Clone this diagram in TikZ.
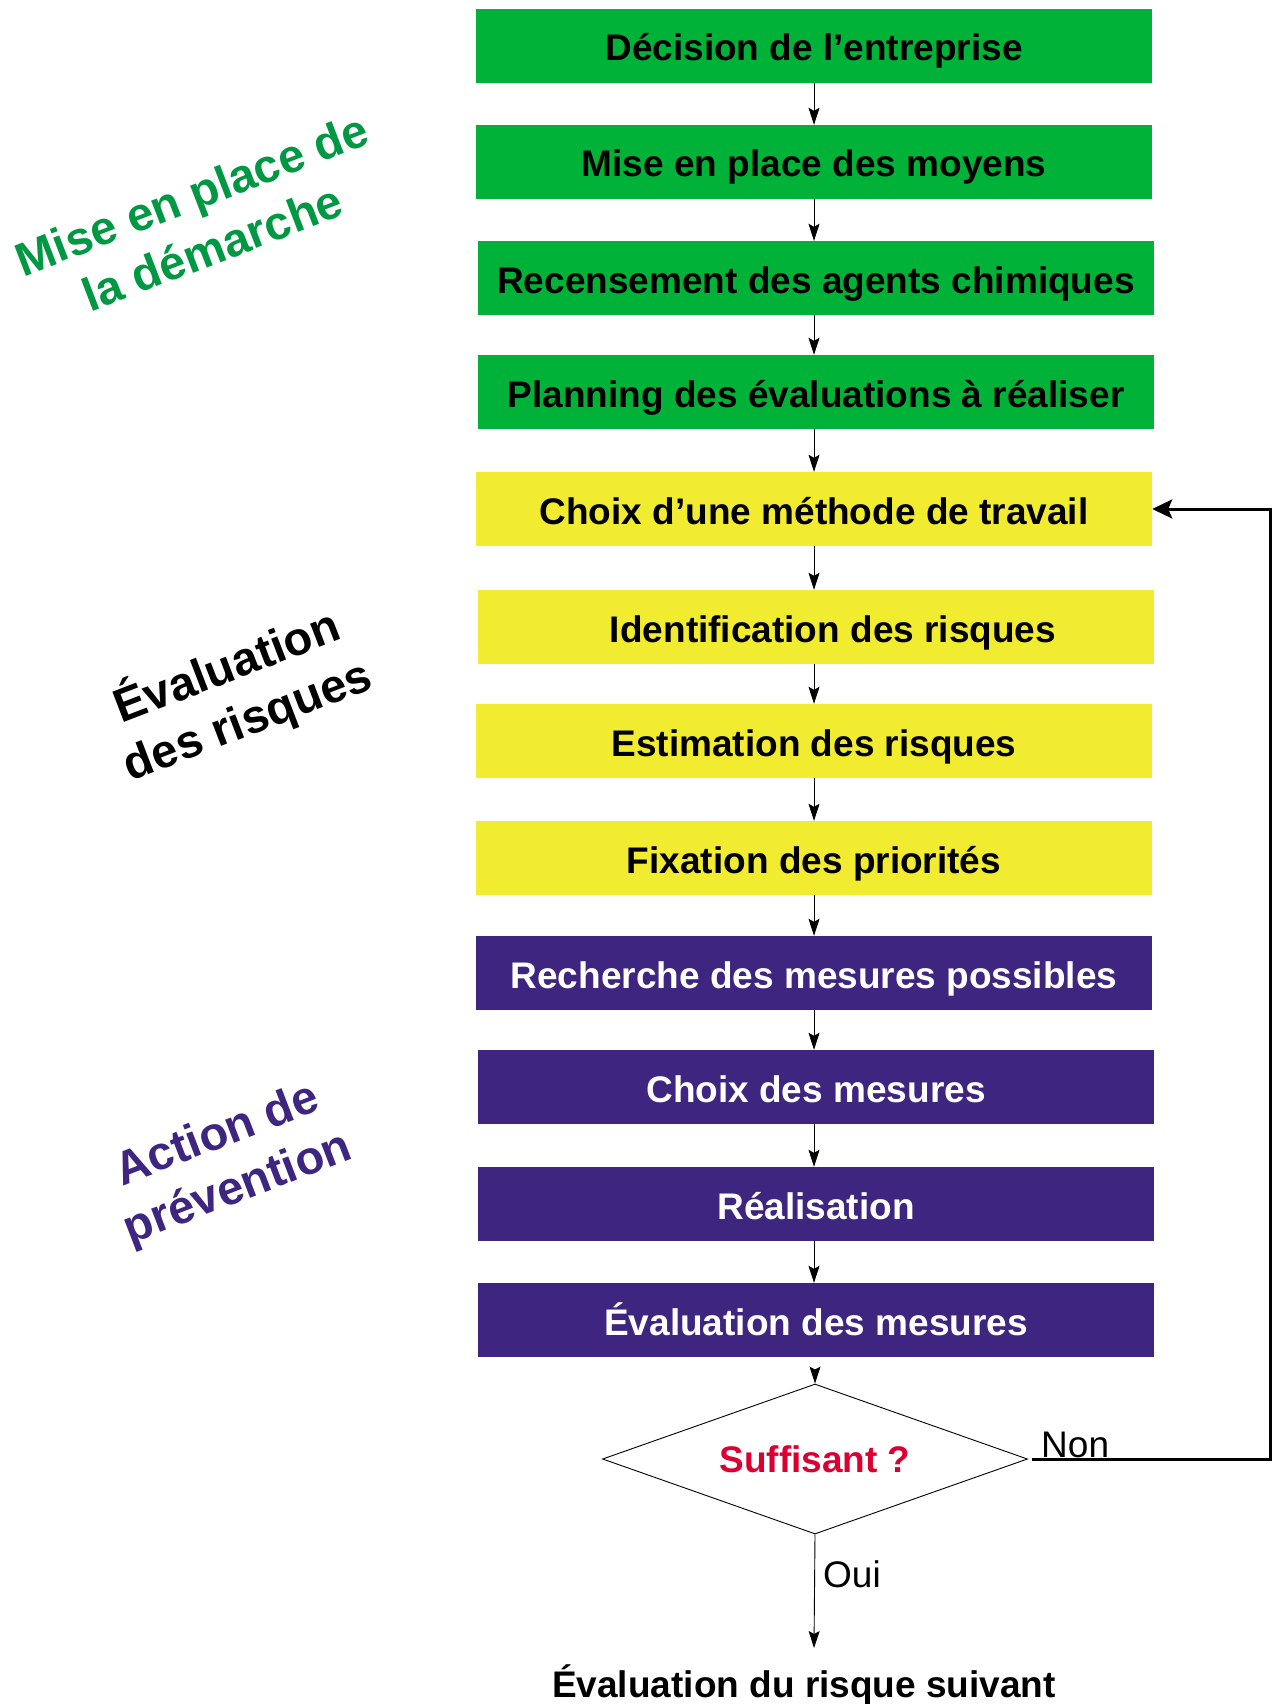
\documentclass[tikz,border=0pt]{standalone}
\usepackage{fontspec}
\setmainfont{Liberation Sans}
\usetikzlibrary{arrows.meta,shapes.geometric,calc}
\definecolor{boxgreen}{RGB}{0,178,56}
\definecolor{labgreen}{RGB}{0,152,66}
\definecolor{boxyellow}{RGB}{242,236,48}
\definecolor{boxpurple}{RGB}{62,37,128}
\definecolor{qred}{RGB}{220,0,50}
\tikzset{
  stepbox/.style={rectangle, minimum width=676pt, minimum height=74pt, inner sep=0pt,
    text height=34pt, text depth=4pt,
    font=\fontsize{37}{40}\selectfont\bfseries},
  gbox/.style={stepbox, fill=boxgreen, text=black},
  ybox/.style={stepbox, fill=boxyellow, text=black},
  pbox/.style={stepbox, fill=boxpurple, text=white},
  arr/.style={draw=black, line width=0.9pt, -{Stealth[length=17pt,width=11pt,inset=3pt]}},
  fb/.style={draw=black, line width=3pt, -{Stealth[length=20pt,width=19pt,inset=4pt]}},
  phase/.style={rotate=21, align=center, font=\fontsize{47}{57}\selectfont\bfseries},
  plain/.style={font=\fontsize{37}{40}\selectfont, inner sep=0pt}
}
\begin{document}
\begin{tikzpicture}[x=1pt,y=-1pt]
\useasboundingbox (0,0) rectangle (1273,1704);
\coordinate (axis) at (814,0);
\node[gbox] (b1) at (814,46) {Décision de l’entreprise};
\node[gbox] (b2) at (814,162) {Mise en place des moyens};
\node[gbox] (b3) at (816,278) {Recensement des agents chimiques};
\node[gbox] (b4) at (816,392) {Planning des évaluations à réaliser};
\node[ybox] (b5) at (814,509) {Choix d’une méthode de travail};
\node[ybox] (b6) at (816,627) {\hspace*{34pt}Identification des risques};
\node[ybox] (b7) at (814,741) {Estimation des risques};
\node[ybox] (b8) at (814,858) {Fixation des priorités};
\node[pbox] (b9) at (814,973) {Recherche des mesures possibles};
\node[pbox] (b10) at (816,1087) {Choix des mesures};
\node[pbox] (b11) at (816,1204) {Réalisation};
\node[pbox] (b12) at (816,1320) {Évaluation des mesures};
\node[diamond, draw=black, line width=0.9pt, aspect=2.833, minimum width=425pt, minimum height=150pt, inner sep=0pt,
  font=\fontsize{37}{40}\selectfont\bfseries, text=qred] (d) at (815,1459) {Suffisant ?};
\node[font=\fontsize{37}{40}\selectfont\bfseries, anchor=base, inner sep=0pt] (fin) at (804,1697) {Évaluation du risque suivant};
\coordinate (fintop) at (814,1648);
\coordinate (rt) at (1270,0);

\foreach \a/\b in {b1/b2,b2/b3,b3/b4,b4/b5,b5/b6,b6/b7,b7/b8,b8/b9,b9/b10,b10/b11,b11/b12}
  \draw[arr] (\a.south -| axis) -- (\b.north -| axis);
\draw[arr] ([yshift=-12pt]b12.south -| d.north) -- (d.north);
\draw[arr] (d.south) -- (fintop);
\draw[fb] ([xshift=4pt]d.east) -- (d.east -| rt) |- (b5.east);

\node[plain, anchor=base west] (non) at (1041,1457) {Non};
\node[plain, anchor=base west] (oui) at (823,1587) {Oui};

\node[phase, text=labgreen] (l1) at (202,221) {Mise en place de\\la démarche};
\node[phase, text=black] (l2) at (237,693) {Évaluation\\des risques};
\node[phase, text=boxpurple] (l3) at (228,1163) {Action de\\prévention};
\end{tikzpicture}
\end{document}
